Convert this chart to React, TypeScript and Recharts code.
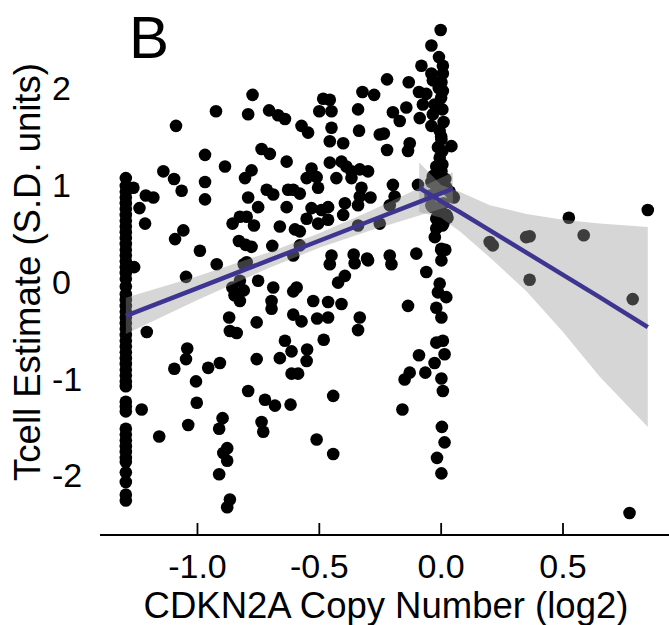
import { Area, ComposedChart, Line, Scatter, XAxis, YAxis } from "recharts";

const FONT = "'Liberation Sans', Arial, Helvetica, sans-serif";

const xTicks = [-1, -0.5, 0, 0.5];
const yTicks = [-2, -1, 0, 1, 2];
const xDomain: [number, number] = [-1.4, 0.935];
const yDomain: [number, number] = [-2.617, 2.786];

// samples sitting at the lowest copy-number value (left column)
const floorCopyNumber = -1.294;
const floorTcell = [
  1.07, 0.99, 0.93, 0.87, 0.81, 0.75, 0.69, 0.63, 0.57, 0.51, 0.45, 0.39, 0.33,
  0.27, 0.21, 0.15, 0.09, 0.03, -0.05, -0.13, -0.19, -0.25, -0.31, -0.37, -0.43,
  -0.49, -0.55, -0.61, -0.67, -0.73, -0.79, -0.85, -0.91, -0.97, -1.03, -1.08,
  -1.24, -1.29, -1.34, -1.52, -1.58, -1.64, -1.7, -1.76, -1.82, -1.86, -1.97,
  -2.07, -2.2, -2.26,
];

// [copy number, tcell estimate]
const samples: [number, number][] = [
  [-0.774, 1.93], [-0.924, 1.76], [-0.792, 1.73], [-0.706, 1.77], [-0.669, 1.72],
  [-0.641, 1.68], [-1.088, 1.61], [-0.969, 1.31], [-0.737, 1.37], [-0.703, 1.32],
  [-0.634, 1.24], [-0.887, 1.19], [-1.14, 1.14], [-1.096, 1.06], [-0.778, 1.15],
  [-0.805, 1.07], [-0.969, 1.03], [-1.065, 0.94], [-1.263, 0.97], [-1.212, 0.89],
  [-1.181, 0.87], [-1.238, 0.76], [-0.969, 0.85], [-0.716, 0.95], [-0.689, 0.9],
  [-0.792, 0.87], [-0.751, 0.77], [-0.634, 0.77], [-0.628, 0.95], [-1.215, 0.6],
  [-0.856, 0.6], [-0.826, 0.67], [-0.798, 0.67], [-0.768, 0.58], [-0.662, 0.57],
  [-1.058, 0.53], [-1.092, 0.44], [-0.802, 0.38], [-0.778, 0.36], [-0.693, 0.37],
  [-0.99, 0.32], [-0.798, 0.2], [-0.83, 0.42],
  [-0.921, 0.18], [-1.047, 0.05], [-0.826, 0.01], [-0.751, 0.01], [-0.81, -0.09],
  [-0.689, -0.06], [-0.696, -0.2], [-0.696, -0.28], [-0.826, -0.2], [-0.87, -0.37],
  [-0.757, -0.42], [-0.867, -0.51], [-0.839, -0.53], [-1.208, -0.52], [-1.042, -0.69],
  [-1.047, -0.8], [-1.095, -0.9], [-0.956, -0.89], [-0.908, -0.84], [-0.757, -0.8],
  [-1.006, -1.03], [-0.792, -1.13], [-1.003, -1.25], [-0.723, -1.22], [-0.682, -1.28],
  [-1.229, -1.32], [-0.897, -1.41], [-0.911, -1.52], [-0.737, -1.45], [-0.73, -1.55],
  [-1.038, -1.48], [-1.157, -1.6], [-0.878, -1.72], [-0.894, -1.77], [-0.878, -1.85],
  [-0.911, -1.99], [-0.867, -2.25], [-0.878, -2.33], [-0.81, 0.18], [-0.857, -0.06],
  [-0.848, -0.14], [-1.26, 0.15],
  [-0.457, 0.18], [-0.355, 0.19], [-0.3, 0.22], [-0.204, 0.18], [-0.395, 0.06],
  [-0.423, -0.01], [-0.593, -0.06], [-0.607, -0.1], [-0.525, -0.2], [-0.464, -0.21],
  [-0.409, -0.23], [-0.607, -0.34], [-0.573, -0.41], [-0.509, -0.38], [-0.464, -0.37],
  [-0.641, -0.61], [-0.614, -0.72], [-0.662, -0.79], [-0.55, -0.7], [-0.552, -0.82],
  [-0.482, -0.6], [-0.614, -0.95], [-0.587, -0.95], [-0.443, -1.18], [-0.618, -1.27],
  [-0.511, -1.63], [-0.443, -1.78], [-0.334, -0.37], [-0.341, -0.5], [-0.136, -0.25],
  [-0.091, -0.76], [-0.065, -0.94], [-0.129, -0.94], [-0.15, -1.01], [-0.159, -1.32],
  [-0.027, -0.84],
  [0.001, 0.22], [-0.061, 0.1], [-0.006, -0.02], [-0.013, -0.11], [0.021, -0.16],
  [-0.02, -0.27], [0.001, -0.37], [-0.02, -0.63], [0.007, -0.61], [0.014, -0.75],
  [0.001, -1.0], [0.007, -1.13], [0.003, -1.5], [0.014, -1.66], [-0.017, -1.82],
  [0.001, -1.98],
  [-0.002, 2.6], [-0.04, 2.44], [-0.009, 2.32], [0.007, 2.23], [-0.081, 2.23],
  [-0.04, 2.15], [0.007, 2.15], [-0.133, 2.06], [-0.034, 2.08], [0.001, 2.06],
  [-0.091, 1.96], [-0.061, 1.94], [0.007, 1.97], [-0.075, 1.83], [-0.027, 1.83],
  [0.005, 1.78], [-0.143, 1.8], [-0.034, 1.73], [-0.088, 1.69], [-0.04, 1.61],
  [-0.006, 1.56], [0.001, 1.47], [0.042, 1.4], [-0.013, 1.39], [0.005, 1.35],
  [-0.006, 1.28], [0.005, 1.21], [-0.02, 1.19], [0.001, 1.14], [0.007, 1.07],
  [-0.034, 1.09], [-0.04, 1.03], [-0.095, 1.0], [-0.02, 0.95], [0.021, 0.97],
  [0.048, 0.88], [-0.04, 0.79], [-0.006, 0.76], [0.021, 0.69], [-0.02, 0.65],
  [0.005, 0.58], [-0.02, 0.55], [0.001, 0.34], [0.0, 1.9], [0.01, 1.65],
  [-0.01, 2.0], [0.0, 1.5],
  [-0.026, 1.08], [0.017, 1.06], [-0.044, 0.89], [-0.009, 0.975], [0.035, 0.93],
  [0.052, 0.87], [-0.035, 0.77], [0.009, 0.81], [-0.017, 0.66], [0.026, 0.66],
  [0.009, 0.6], [-0.026, 0.46], [0.0, 0.33], [0.017, 0.33],
  [-0.484, 1.89], [-0.457, 1.88], [-0.5, 1.76], [-0.45, 1.76], [-0.323, 1.96],
  [-0.275, 1.93], [-0.222, 2.09], [-0.341, 1.78], [-0.198, 1.75], [-0.17, 1.66],
  [-0.573, 1.61], [-0.546, 1.54], [-0.45, 1.59], [-0.457, 1.45], [-0.402, 1.43],
  [-0.337, 1.56], [-0.252, 1.52], [-0.235, 1.53], [-0.222, 1.36], [-0.129, 1.43],
  [-0.136, 1.35], [-0.532, 1.17], [-0.552, 1.07], [-0.511, 1.08], [-0.457, 1.23],
  [-0.409, 1.24], [-0.389, 1.19], [-0.368, 1.14], [-0.334, 1.16], [-0.3, 1.14],
  [-0.43, 1.07], [-0.368, 1.07], [-0.607, 0.95], [-0.58, 0.91], [-0.505, 0.97],
  [-0.327, 0.97], [-0.334, 0.88], [-0.29, 0.87], [-0.198, 1.0], [-0.191, 0.88],
  [-0.532, 0.76], [-0.491, 0.74], [-0.464, 0.77], [-0.395, 0.81], [-0.341, 0.79],
  [-0.402, 0.69], [-0.552, 0.65], [-0.505, 0.6], [-0.464, 0.64], [-0.211, 0.79],
  [-0.341, 0.58], [-0.252, 0.6], [-0.58, 0.375], [-0.607, 0.27], [-0.45, 0.27],
  [-0.359, 0.28], [-0.304, 0.24], [-0.211, 0.27], [-0.102, 0.29], [-0.58, 0.52],
  [-0.6, 0.54],
  [0.199, 0.41], [0.212, 0.375], [0.349, 0.46], [0.363, 0.47], [0.524, 0.66],
  [0.585, 0.48], [0.848, 0.74], [0.363, 0.02], [0.786, -0.18], [0.773, -2.39],
];

// fit below the copy-number break, with 95% band
const fitLowX = [-1.294, -1.0, -0.7, -0.5, -0.3, -0.1, 0.048];
const fitLowY = [-0.354, -0.066, 0.228, 0.423, 0.619, 0.815, 0.96];
const fitLowLo = [-0.54, -0.19, 0.15, 0.35, 0.52, 0.675, 0.79];
const fitLowHi = [-0.165, 0.055, 0.31, 0.5, 0.72, 0.955, 1.13];

// fit above the break
const fitHighX = [-0.09, 0.0, 0.076, 0.2, 0.35, 0.5, 0.65, 0.848];
const fitHighY = [0.97, 0.83, 0.72, 0.53, 0.3, 0.07, -0.16, -0.47];
const fitHighLo = [0.72, 0.66, 0.52, 0.25, -0.1, -0.52, -0.98, -1.5];
const fitHighHi = [1.23, 1.0, 0.93, 0.79, 0.7, 0.64, 0.6, 0.565];

const scatterData = [
  ...floorTcell.map((y) => ({ x: floorCopyNumber, y })),
  ...samples.map(([x, y]) => ({ x, y })),
];

type FitRow = { x: number; low?: number; lowBand?: [number, number]; high?: number; highBand?: [number, number] };
const rowMap = new Map<number, FitRow>();
fitLowX.forEach((x, i) => {
  const r = rowMap.get(x) ?? { x };
  r.low = fitLowY[i];
  r.lowBand = [fitLowLo[i], fitLowHi[i]];
  rowMap.set(x, r);
});
fitHighX.forEach((x, i) => {
  const r = rowMap.get(x) ?? { x };
  r.high = fitHighY[i];
  r.highBand = [fitHighLo[i], fitHighHi[i]];
  rowMap.set(x, r);
});
const fitData = [...rowMap.values()].sort((a, b) => a.x - b.x);

const CHART_MARGIN = { top: 12, right: 0, bottom: 0, left: 0 };

const Dot = (props: any) => <circle cx={props.cx} cy={props.cy} r={6.3} fill="#000" />;

const XTick = (props: any) => {
  const { x, y, payload } = props;
  return (
    <g>
      <line x1={x} x2={x} y1={y} y2={y - 12} stroke="#000" strokeWidth={1.8} />
      <text x={x} y={y + 43} textAnchor="middle" fontSize={34} fontFamily={FONT} fill="#000">
        {Number(payload.value).toFixed(1)}
      </text>
    </g>
  );
};

const YTick = (props: any) => {
  const { x, y, payload } = props;
  return (
    <text x={x} y={y} dy="0.355em" textAnchor="start" fontSize={34} fontFamily={FONT} fill="#000">
      {payload.value}
    </text>
  );
};

const layer: React.CSSProperties = { position: "absolute", left: 0, top: 0 };

export default function App() {
  return (
    <div style={{ position: "absolute", left: 0, top: 0, width: 669, height: 625, background: "#fff" }}>
      {/* points + axes */}
      <div style={layer}>
        <ComposedChart width={669} height={625} margin={CHART_MARGIN}>
          <XAxis
            type="number"
            dataKey="x"
            domain={xDomain}
            ticks={xTicks}
            allowDataOverflow
            height={90}
            axisLine={{ stroke: "#000", strokeWidth: 1.8 }}
            tickLine={false}
            tickSize={0}
            tickMargin={0}
            tick={<XTick />}
          />
          <YAxis
            type="number"
            dataKey="y"
            domain={yDomain}
            ticks={yTicks}
            allowDataOverflow
            width={100}
            axisLine={false}
            tickLine={false}
            tickSize={0}
            tickMargin={48}
            tick={<YTick />}
          />
          <Scatter data={scatterData} shape={Dot} isAnimationActive={false} />
        </ComposedChart>
      </div>
      {/* bands and fit lines drawn over the points */}
      <div style={layer}>
        <ComposedChart width={669} height={625} data={fitData} margin={CHART_MARGIN}>
          <XAxis
            type="number"
            dataKey="x"
            domain={xDomain}
            allowDataOverflow
            height={90}
            axisLine={false}
            tickLine={false}
            tick={false}
          />
          <YAxis
            type="number"
            domain={yDomain}
            allowDataOverflow
            width={100}
            axisLine={false}
            tickLine={false}
            tick={false}
          />
          <Area
            type="linear"
            dataKey="lowBand"
            stroke="none"
            fill="#999999"
            fillOpacity={0.4}
            connectNulls
            activeDot={false}
            isAnimationActive={false}
          />
          <Area
            type="linear"
            dataKey="highBand"
            stroke="none"
            fill="#999999"
            fillOpacity={0.4}
            connectNulls
            activeDot={false}
            isAnimationActive={false}
          />
          <Line
            type="linear"
            dataKey="low"
            stroke="#3D3590"
            strokeWidth={4.5}
            dot={false}
            activeDot={false}
            connectNulls
            isAnimationActive={false}
          />
          <Line
            type="linear"
            dataKey="high"
            stroke="#3D3590"
            strokeWidth={4.5}
            dot={false}
            activeDot={false}
            connectNulls
            isAnimationActive={false}
          />
        </ComposedChart>
      </div>
      <svg width={669} height={625} style={{ ...layer, pointerEvents: "none" }}>
        <text x={129} y={58} fontSize={60} fontFamily={FONT} fill="#000">B</text>
        <text
          transform="translate(39.5,272) rotate(-90)"
          textAnchor="middle"
          fontSize={36.5}
          fontFamily={FONT}
          fill="#000"
        >
          Tcell Estimate (S.D. units)
        </text>
        <text x={386} y={618} textAnchor="middle" fontSize={36.5} fontFamily={FONT} fill="#000">
          CDKN2A Copy Number (log2)
        </text>
      </svg>
    </div>
  );
}
